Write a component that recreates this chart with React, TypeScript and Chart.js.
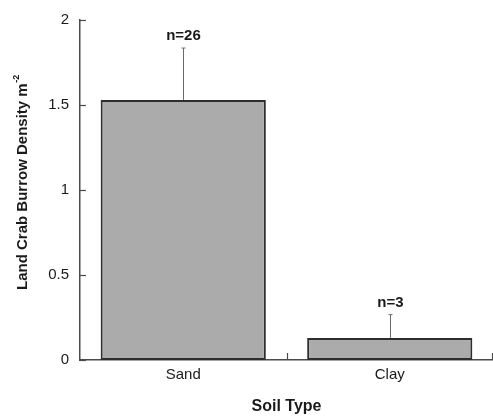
import React, { useEffect, useRef } from "react";
import { Chart, registerables } from "chart.js";

Chart.register(...registerables);

const categories = ["Sand", "Clay"];
const meanDensity = [1.53, 0.13];
const errorUpper = [0.305, 0.137];
const sampleLabels = ["n=26", "n=3"];
const yTickValues = [0, 0.5, 1, 1.5, 2];
const yTickLabels = ["0", "0.5", "1", "1.5", "2"];

const FONT = "'Liberation Sans', Arial, Helvetica, sans-serif";

const overlayPlugin = {
  id: "overlay",
  afterDatasetsDraw(chart: any) {
    const ctx = chart.ctx;
    const xs = chart.scales.x;
    const ys = chart.scales.y;
    const area = chart.chartArea;
    ctx.save();
    // error bars (upper only)
    ctx.strokeStyle = "#6a6a6a";
    ctx.lineWidth = 1;
    meanDensity.forEach((m, i) => {
      const px = Math.round(xs.getPixelForValue(i)) + 0.5;
      const yTop = ys.getPixelForValue(m);
      const yErr = ys.getPixelForValue(m + errorUpper[i]);
      ctx.beginPath();
      ctx.moveTo(px, yTop);
      ctx.lineTo(px, yErr);
      ctx.moveTo(px - 2, yErr);
      ctx.lineTo(px + 2, yErr);
      ctx.stroke();
      ctx.fillStyle = "#1a1a1a";
      ctx.font = `bold 15px ${FONT}`;
      ctx.textAlign = "center";
      ctx.textBaseline = "middle";
      ctx.fillText(sampleLabels[i], px, yErr - 12);
    });
    // inward y ticks
    ctx.strokeStyle = "#4a4a4a";
    ctx.lineWidth = 1.2;
    yTickValues.forEach((v) => {
      const py = Math.round(ys.getPixelForValue(v)) + 0.5;
      ctx.beginPath();
      ctx.moveTo(area.left, py);
      ctx.lineTo(area.left + 6, py);
      ctx.stroke();
    });
    // inward x ticks at category boundaries
    const p0 = xs.getPixelForValue(0);
    const p1 = xs.getPixelForValue(1);
    const half = (p1 - p0) / 2;
    const bounds = [p0 + half, p1 + half - 1];
    bounds.forEach((bx) => {
      const px = Math.round(bx) + 0.5;
      ctx.beginPath();
      ctx.moveTo(px, area.bottom);
      ctx.lineTo(px, area.bottom - 7);
      ctx.stroke();
    });
    ctx.restore();
  },
  afterDraw(chart: any) {
    const ctx = chart.ctx;
    ctx.save();
    ctx.fillStyle = "#1a1a1a";
    ctx.translate(23, 290);
    ctx.rotate(-Math.PI / 2);
    ctx.textAlign = "left";
    ctx.textBaseline = "middle";
    ctx.font = `bold 15px ${FONT}`;
    const main = "Land Crab Burrow Density m";
    ctx.fillText(main, 0, 0);
    const w = ctx.measureText(main).width;
    ctx.font = `bold 9px ${FONT}`;
    ctx.fillText("-2", w + 0.5, -6);
    ctx.restore();
  },
};

export default function App() {
  const ref = useRef<HTMLCanvasElement | null>(null);
  useEffect(() => {
    if (!ref.current) return;
    const chart = new Chart(ref.current, {
      type: "bar",
      data: {
        labels: categories,
        datasets: [
          {
            data: meanDensity,
            backgroundColor: "#ababab",
            borderColor: "#2e2e2e",
            borderWidth: 2,
            borderSkipped: false,
            barPercentage: 0.8,
            categoryPercentage: 1,
          },
        ],
      },
      options: {
        responsive: false,
        animation: false,
        devicePixelRatio: 1,
        layout: { padding: { top: 15, left: 0, right: 0, bottom: 0 } },
        plugins: {
          legend: { display: false },
          tooltip: { enabled: false },
          title: { display: false },
        },
        scales: {
          x: {
            type: "category",
            offset: true,
            grid: { display: false, drawTicks: false },
            border: { display: true, color: "#4a4a4a", width: 1.5 },
            ticks: {
              padding: 6,
              color: "#1a1a1a",
              font: { family: FONT, size: 15 },
            },
            title: {
              display: true,
              text: "Soil Type",
              color: "#1a1a1a",
              font: { family: FONT, size: 16, weight: "bold" },
              padding: { top: 0, bottom: 2 },
            },
            afterFit(scale: any) {
              scale.height = 58;
            },
          },
          y: {
            min: 0,
            max: 2,
            grid: { display: false, drawTicks: false },
            border: { display: true, color: "#4a4a4a", width: 1.5 },
            afterBuildTicks(scale: any) {
              scale.ticks = yTickValues.map((v) => ({ value: v }));
            },
            ticks: {
              padding: 11,
              color: "#1a1a1a",
              font: { family: FONT, size: 15 },
              callback: (value: any) => {
                const idx = yTickValues.indexOf(Number(value));
                return idx >= 0 ? yTickLabels[idx] : String(value);
              },
            },
            afterFit(scale: any) {
              scale.width = 80;
            },
          },
        },
      },
      plugins: [overlayPlugin],
    });
    return () => chart.destroy();
  }, []);
  return (
    <div style={{ position: "fixed", left: 0, top: 0, width: 493, height: 418, background: "#fff" }}>
      <canvas ref={ref} width={493} height={418} style={{ width: 493, height: 418, display: "block" }} />
    </div>
  );
}
